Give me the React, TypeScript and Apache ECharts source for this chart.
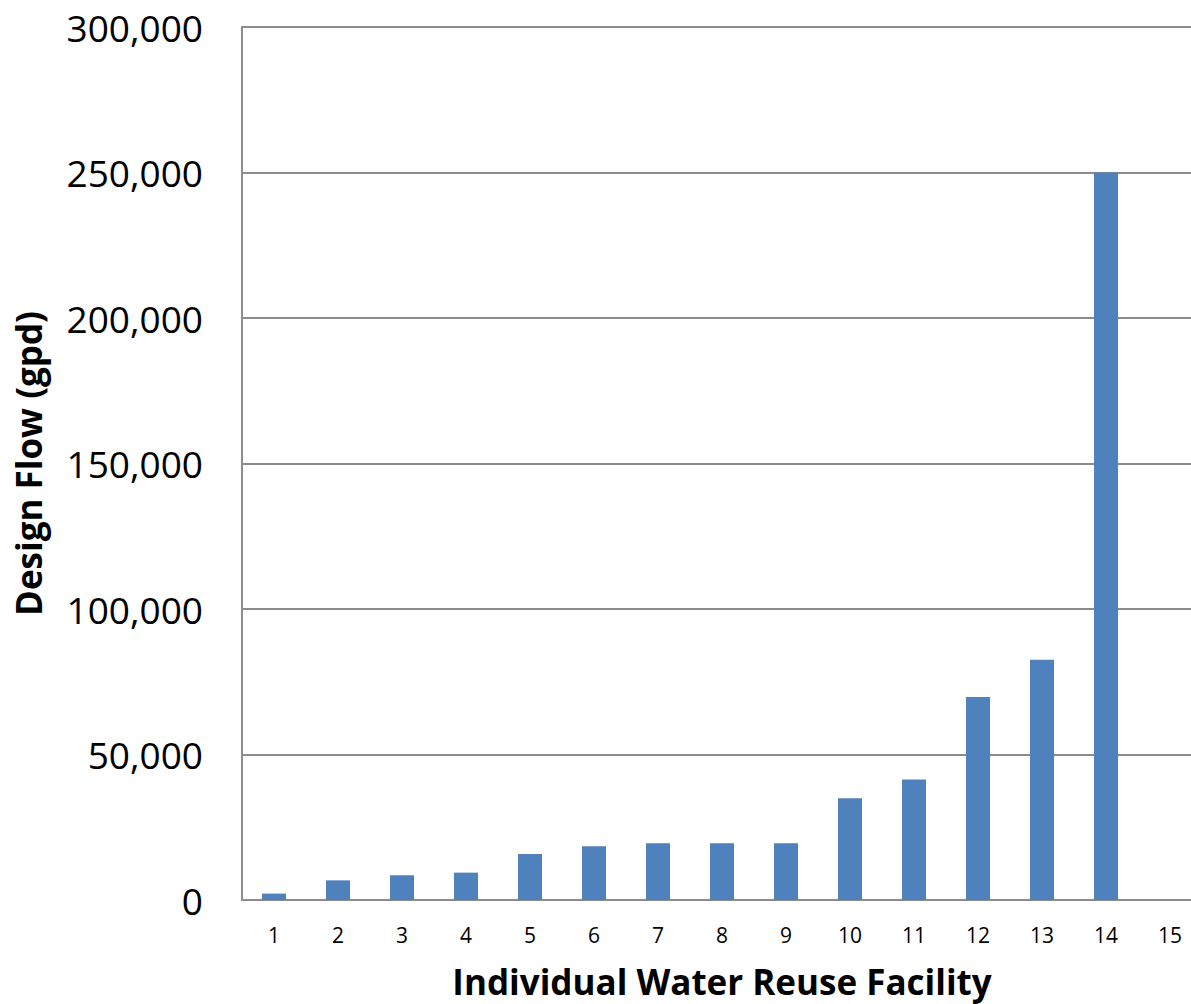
import React, { useEffect, useRef } from "react";
import * as echarts from "echarts";

const categories = ["1", "2", "3", "4", "5", "6", "7", "8", "9", "10", "11", "12", "13", "14", "15"];
const designFlow = [2200, 6750, 8500, 9400, 15800, 18500, 19500, 19500, 19500, 35000, 41400, 69800, 82600, 250000, null];
const yTicks = { min: 0, max: 300000, interval: 50000 };

export default function App() {
  const ref = useRef<HTMLDivElement>(null);
  useEffect(() => {
    if (!ref.current) return;
    const chart = echarts.init(ref.current, null, { renderer: "svg" });
    chart.setOption({
      animation: false,
      backgroundColor: "#ffffff",
      grid: { left: 242, right: 0, top: 27, bottom: 103, containLabel: false },
      xAxis: {
        type: "category",
        data: categories,
        name: "Individual Water Reuse Facility",
        nameLocation: "middle",
        nameGap: 64,
        nameTextStyle: { fontFamily: "Open Sans", fontWeight: "bold", fontSize: 35, color: "#000" },
        axisLine: { show: true, lineStyle: { color: "#8c8c8c", width: 2 } },
        axisTick: { show: false },
        axisLabel: { fontFamily: "Open Sans", fontSize: 21, color: "#000", margin: 24 },
      },
      yAxis: {
        type: "value",
        min: yTicks.min,
        max: yTicks.max,
        interval: yTicks.interval,
        name: "Design Flow (gpd)",
        nameLocation: "middle",
        nameGap: 196,
        nameTextStyle: { fontFamily: "Open Sans", fontWeight: "bold", fontSize: 35, color: "#000" },
        axisLine: { show: true, lineStyle: { color: "#8c8c8c", width: 2 } },
        axisTick: { show: false },
        splitLine: { show: true, lineStyle: { color: "#8c8c8c", width: 2 } },
        axisLabel: {
          fontFamily: "Open Sans",
          fontSize: 37,
          color: "#000",
          margin: 39,
          formatter: (v: number) => v.toLocaleString("en-US"),
        },
      },
      series: [
        {
          type: "bar",
          data: designFlow,
          barWidth: "37.5%",
          itemStyle: { color: "#4F81BD" },
        },
      ],
    });
    return () => chart.dispose();
  }, []);
  return (
    <div style={{ position: "fixed", left: 0, top: 0, width: 1191, height: 1004, overflow: "hidden", background: "#fff" }}>
      <div ref={ref} style={{ width: 1202, height: 1004 }} />
    </div>
  );
}
